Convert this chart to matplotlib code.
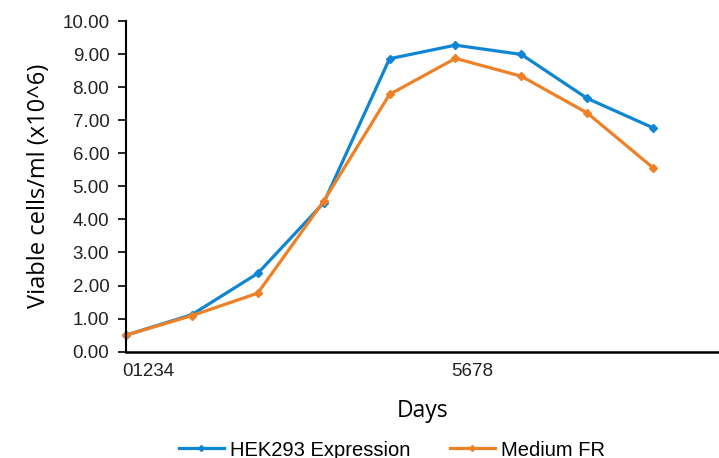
import matplotlib.pyplot as plt
import matplotlib.transforms as mtransforms

days = [0, 1, 2, 3, 4, 5, 6, 7, 8]
hek293 = [0.50, 1.12, 2.37, 4.50, 8.86, 9.27, 8.99, 7.66, 6.77]
medium_fr = [0.50, 1.09, 1.77, 4.55, 7.78, 8.87, 8.33, 7.22, 5.56]
tick_pos = [0, 5]
tick_labels = ["01234", "5678"]
yticks = [i for i in range(11)]

fig = plt.figure(figsize=(7.19, 4.58), dpi=100)
ax = fig.add_axes([0.1752, 0.2321, 0.8248, 0.722])

ax.plot(days, hek293, color='#0e86d4', lw=2.3, marker='D', ms=4, label="HEK293 Expression", clip_on=False)
ax.plot(days, medium_fr, color='#ee8126', lw=2.3, marker='D', ms=4, label="Medium FR", clip_on=False)

ax.set_xlim(0, 9)
ax.set_ylim(0, 10)
ax.set_yticks(yticks)
ax.set_yticklabels(["{:.2f}".format(v) for v in yticks], family='Liberation Sans', fontsize=13.5, color='#222222')
ax.set_xticks(tick_pos)
ax.set_xticklabels(tick_labels, family='Liberation Sans', fontsize=13.5, color='#222222', ha='left')
ax.tick_params(axis='x', length=0, pad=8)
ax.tick_params(axis='y', length=6, width=1.2, pad=6)
ax.spines['top'].set_visible(False)
ax.spines['right'].set_visible(False)
ax.spines['left'].set_linewidth(1.5)
ax.spines['bottom'].set_linewidth(1.8)

# shift the x tick labels a little to the left
offset = mtransforms.ScaledTranslation(-4 / 100, 0, fig.dpi_scale_trans)
for lab in ax.get_xticklabels():
    lab.set_transform(lab.get_transform() + offset)

ax.set_ylabel("Viable cells/ml (x10^6)", family='Open Sans', fontsize=17, labelpad=8)
ax.set_xlabel("Days", family='Open Sans', fontsize=16.5, labelpad=14)

ax.legend(loc='center', bbox_to_anchor=(392 / 719, 1 - 450 / 458), bbox_transform=fig.transFigure,
          ncol=2, frameon=False, prop={'family': 'Liberation Sans', 'size': 14.5},
          handlelength=2.2, handletextpad=0.3, columnspacing=2.0, markerscale=0.75)

fig.savefig("out.png", dpi=100)
